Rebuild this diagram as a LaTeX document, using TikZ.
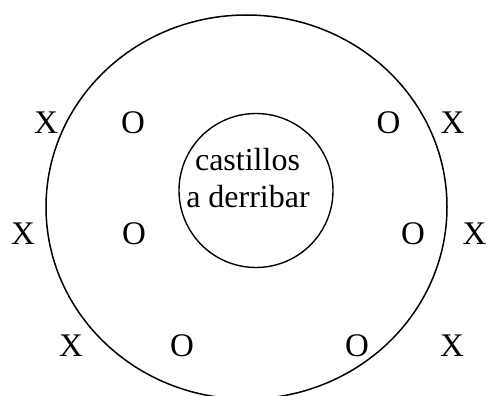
\documentclass[tikz,border=0pt]{standalone}
\usepackage{fontspec}
\setmainfont{Liberation Serif}
\begin{document}
\begin{tikzpicture}[x=1pt,y=-1pt,
  lbl/.style={anchor=base,inner sep=0pt,font=\fontsize{33}{40}\selectfont},
  inner/.style={anchor=base,inner sep=0pt,font=\fontsize{32}{38}\selectfont},
  ring/.style={draw,line width=1.5pt}]
\useasboundingbox (0,0) rectangle (487,396);
\begin{scope}
\clip (0,0) rectangle (487,396);
\draw[ring] (246.5,207) ellipse [x radius=200.5, y radius=192];
\end{scope}
\node[draw,line width=1.4pt,circle,minimum size=154pt,inner sep=0pt] (castle) at (256,190.5) {};
\node[inner] (txt) at (247.5,170) {castillos};
\node[inner] (txt2) at (248,207) {a derribar};
\node[lbl] (x1) at (46,133) {X};
\node[lbl] (o1) at (133,133) {O};
\node[lbl] (o2) at (388.5,133) {O};
\node[lbl] (x2) at (452.5,133) {X};
\node[lbl] (x3) at (23,244) {X};
\node[lbl] (o3) at (134,244) {O};
\node[lbl] (o4) at (413,244) {O};
\node[lbl] (x4) at (474.5,244) {X};
\node[lbl] (x5) at (71,356.5) {X};
\node[lbl] (o5) at (182,356.5) {O};
\node[lbl] (o6) at (357,356.5) {O};
\node[lbl] (x6) at (452,356.5) {X};
\end{tikzpicture}
\end{document}
